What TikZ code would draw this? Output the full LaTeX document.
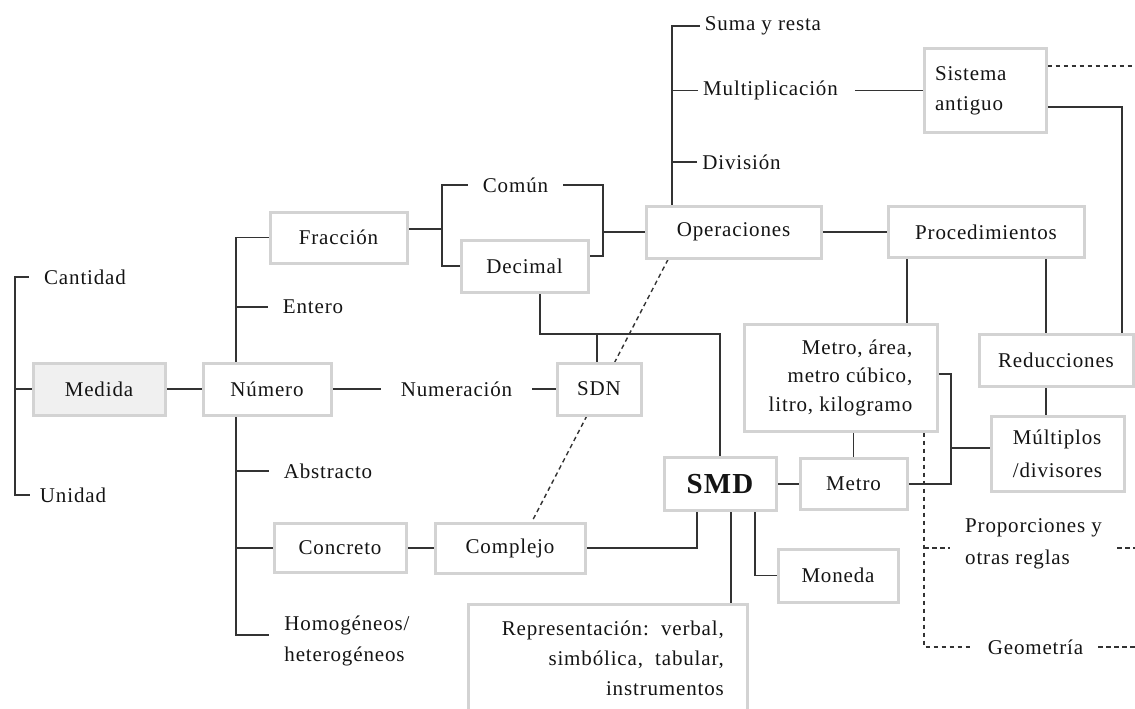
\documentclass[tikz,border=0pt]{standalone}
\usepackage{fontspec}
\setmainfont{Liberation Serif}[LetterSpace=4]
\usetikzlibrary{calc}
\pgfdeclarelayer{background}
\pgfsetlayers{background,main}
\definecolor{boxline}{HTML}{D3D3D3}
\definecolor{linkc}{HTML}{333333}
\definecolor{medfill}{HTML}{F0F0F0}
\definecolor{txt}{HTML}{141414}
\tikzset{
  every node/.style={font=\fontsize{21}{30}\selectfont, text=txt},
  box/.style={draw=boxline, line width=3pt, fill=white, rectangle, inner sep=0pt},
  lbl/.style={inner xsep=15pt, inner ysep=0pt},
  oplbl/.style={inner xsep=5pt, inner ysep=0pt},
  link/.style={draw=linkc, line width=1.7pt},
  dashlink/.style={draw=linkc, line width=1.4pt, dash pattern=on 4.5pt off 3.5pt},
}
\begin{document}
\begin{tikzpicture}[x=1pt,y=-1pt]
\useasboundingbox (0,0) rectangle (1135,709);
\clip (0,0) rectangle (1135,709);

% boxed concepts
\node[box, fill=medfill, minimum width=132pt, minimum height=52pt] (medida) at (99,389) {Medida};
\node[box, minimum width=128pt, minimum height=52pt] (numero) at (267,389) {Número};
\node[box, minimum width=137pt, minimum height=51pt] (fraccion) at (338.5,237.5) {Fracción};
\node[box, minimum width=127pt, minimum height=52pt] (decimal) at (524.5,266) {Decimal};
\node[box, minimum width=175pt, minimum height=52pt] (operaciones) at (733.5,232) {Operaciones};
\node[box, minimum width=196pt, minimum height=51pt] (procedimientos) at (986,232) {Procedimientos};
\node[box, minimum width=122pt, minimum height=83pt, align=left, text width=100pt] (sistema) at (985,90.5) {Sistema\\antiguo};
\node[box, minimum width=84pt, minimum height=52pt] (sdn) at (599,389) {SDN};
\node[box, minimum width=193pt, minimum height=107pt, align=right,
      font=\fontsize{21}{28.5}\selectfont] (metroarea) at (840.5,377.5)
      {Metro, área,\\metro cúbico,\\litro, kilogramo};
\node[box, minimum width=154pt, minimum height=52pt] (reducciones) at (1056,360) {Reducciones};
\node[box, minimum width=133pt, minimum height=75pt, align=left,
      font=\fontsize{21}{33}\selectfont] (multiplos) at (1057.5,453.5) {Múltiplos\\/divisores};
\node[box, minimum width=112pt, minimum height=53pt,
      font=\fontsize{29}{32}\selectfont\bfseries] (smd) at (720,484) {SMD};
\node[box, minimum width=107pt, minimum height=51pt] (metro) at (853.5,484) {Metro};
\node[box, minimum width=120pt, minimum height=53pt] (moneda) at (838,575.5) {Moneda};
\node[box, minimum width=132pt, minimum height=49pt] (concreto) at (340,548) {Concreto};
\node[box, minimum width=150pt, minimum height=50pt] (complejo) at (510,548) {Complejo};
\node[box, minimum width=279pt, minimum height=135pt] (repr) at (607.5,671.5) {};
\node[anchor=east, inner sep=0pt, align=right] (reprtext) at (724,658)
      {Representación:\ \ verbal,\\simbólica,\ \ tabular,\\instrumentos};

% plain labels
\node[lbl] (cantidad) at (85,277) {Cantidad};
\node[lbl, inner xsep=10pt] (unidad) at (73,495) {Unidad};
\node[lbl] (entero) at (313,307) {Entero};
\node[lbl] (abstracto) at (328,471) {Abstracto};
\node[lbl, align=left, font=\fontsize{21}{31}\selectfont] (homog) at (347,641) {Homogéneos/\\heterogéneos};
\node[lbl, inner xsep=20pt] (numeracion) at (456.5,389) {Numeración};
\node[lbl] (comun) at (515.5,185) {Común};
\node[oplbl] (suma) at (763,26) {Suma y resta};
\node[oplbl] (multiplicacion) at (770.5,90.5) {Multiplicación};
\node[oplbl] (division) at (741.5,162) {División};
\node[lbl, align=left, font=\fontsize{21}{32}\selectfont] (proporciones) at (1033.5,544) {Proporciones y\\otras reglas};
\node[lbl] (geometria) at (1035.5,647) {Geometría};

% guide coordinates for the bracket spines
\coordinate (mspine) at (15,0);
\coordinate (nx) at (236,0);
\coordinate (fx) at (442,0);
\coordinate (ox) at (603,0);
\coordinate (opx) at (672,0);
\coordinate (px1) at (907,0);
\coordinate (px2) at (1046,0);
\coordinate (sx) at (1122,0);
\coordinate (mx) at (951,0);
\coordinate (gx) at (924,0);
\coordinate (dy) at (0,334);
\coordinate (redge) at (1135,0);

\begin{pgfonlayer}{background}
  % Medida bracket
  \draw[link] (cantidad.west) -| (unidad.west -| mspine) -- (unidad.west);
  \draw[link] (medida.west) -- (medida.west -| mspine);
  \draw[link] (medida) -- (numero);
  % Número spine
  \draw[link] (fraccion.west) -| ([yshift=6pt]homog.west -| nx) -- ([yshift=6pt]homog.west);
  \draw[link] (entero.west) -- (entero.west -| nx);
  \draw[link] (abstracto.west) -- (abstracto.west -| nx);
  \draw[link] (concreto.west) -- (concreto.west -| nx);
  % Numeración
  \draw[link] (numero.east) -- (numeracion.west);
  \draw[link] (numeracion.east) -- (sdn.west);
  % Fracción: común / decimal
  \draw[link] ([yshift=8.5pt]fraccion.east) -- ([yshift=8.5pt]fraccion.east -| fx);
  \draw[link] (comun.west) -| (decimal.west -| fx) -- (decimal.west);
  \draw[link] (comun.east) -| ([yshift=10pt]decimal.east -| ox) -- ([yshift=10pt]decimal.east);
  \draw[link] (operaciones.west) -- (operaciones.west -| ox);
  % Operaciones
  \draw[link] (suma.west) -| (opx |- operaciones.north);
  \draw[link] (multiplicacion.west) -- (multiplicacion.west -| opx);
  \draw[link] (division.west) -- (division.west -| opx);
  \draw[link] ([xshift=12pt]multiplicacion.east) -- (sistema.west);
  \draw[link] (operaciones.east) -- (procedimientos.west);
  % Procedimientos
  \draw[link] (procedimientos.south -| px1) -- (metroarea.north -| px1);
  \draw[link] (procedimientos.south -| px2) -- (reducciones.north -| px2);
  \draw[link] (reducciones.south -| px2) -- (multiplos.north -| px2);
  \draw[link] ([yshift=-16.5pt]sistema.east) -| (sx |- reducciones.north);
  \draw[dashlink] ([yshift=24.5pt]sistema.east) -- ([yshift=24.5pt]sistema.east -| redge);
  % Metro group
  \draw[link] ([yshift=3.5pt]metroarea.east) -| (mx |- metro.east) -- (metro.east);
  \draw[link] ([yshift=5.5pt]multiplos.west) -- ([yshift=5.5pt]multiplos.west -| mx);
  \draw[link] (metroarea.south -| metro.north) -- (metro.north);
  \draw[link] (smd.east) -- (metro.west);
  % Decimal / SDN to SMD
  \draw[link] ([xshift=15.5pt]decimal.south) -- ([xshift=15.5pt]decimal.south |- dy) -| (smd.north);
  \draw[link] ([xshift=-2pt]sdn.north) -- ([xshift=-2pt]sdn.north |- dy);
  % Concreto / Complejo / SMD
  \draw[link] (concreto.east) -- (complejo.west);
  \draw[link] (complejo.east) -| ([xshift=-23pt]smd.south);
  \draw[link] ([xshift=11pt]smd.south) -- ([xshift=11pt]smd.south |- repr.north);
  \draw[link] ([xshift=35pt]smd.south) |- (moneda.west);
  % dashed links
  \draw[dashlink] ([xshift=-65.5pt]operaciones.south) -- ([xshift=22pt]complejo.north);
  \draw[dashlink] (metroarea.south -| gx) |- (geometria.west);
  \draw[dashlink] ([yshift=-4pt]proporciones.west -| gx) -- ([yshift=-4pt]proporciones.west);
  \draw[dashlink] ([yshift=-4pt]proporciones.east) -- ([yshift=-4pt]proporciones.east -| redge);
  \draw[dashlink] (geometria.east) -- (geometria.east -| redge);
\end{pgfonlayer}
\end{tikzpicture}
\end{document}
